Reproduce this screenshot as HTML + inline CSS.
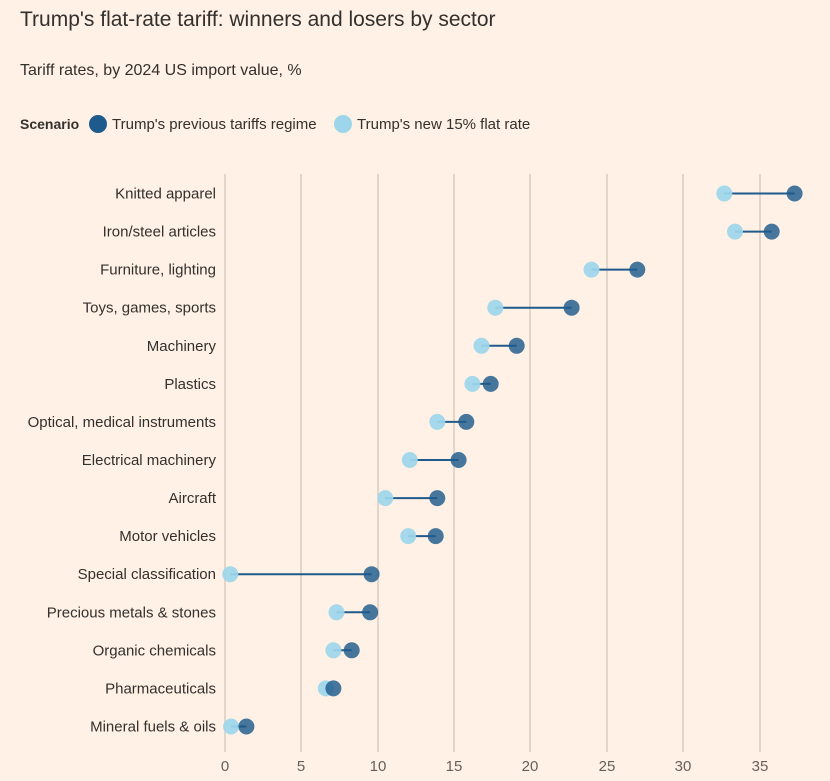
<!DOCTYPE html>
<html><head><meta charset="utf-8"><style>
body{margin:0;background:#fff1e5;font-family:"Liberation Sans",sans-serif;}
</style></head><body>
<svg width="830" height="781" xmlns="http://www.w3.org/2000/svg" style="display:block">
<rect width="830" height="781" fill="#fff1e5"/>
<text x="20" y="26" font-size="21" fill="#33302e">Trump's flat-rate tariff: winners and losers by sector</text>
<text x="20" y="75" font-size="16" fill="#33302e">Tariff rates, by 2024 US import value, %</text>
<text x="20" y="129" font-size="14" font-weight="bold" fill="#33302e">Scenario</text>
<circle cx="98" cy="124" r="9" fill="#1f5a8c"/>
<text x="112" y="129" font-size="15" fill="#33302e">Trump's previous tariffs regime</text>
<circle cx="343" cy="124" r="9" fill="#9dd6ea"/>
<text x="357" y="129" font-size="15" fill="#33302e">Trump's new 15% flat rate</text>
<g stroke="#c4bab0" stroke-width="1">
<line x1="225" y1="174" x2="225" y2="752"/>
<line x1="301" y1="174" x2="301" y2="752"/><line x1="378" y1="174" x2="378" y2="752"/>
<line x1="454" y1="174" x2="454" y2="752"/><line x1="530" y1="174" x2="530" y2="752"/>
<line x1="607" y1="174" x2="607" y2="752"/><line x1="683" y1="174" x2="683" y2="752"/>
<line x1="760" y1="174" x2="760" y2="752"/>
</g>
<g font-size="15" fill="#66605c" text-anchor="middle">
<text x="225" y="771">0</text><text x="301" y="771">5</text><text x="378" y="771">10</text>
<text x="454" y="771">15</text><text x="530" y="771">20</text><text x="607" y="771">25</text>
<text x="683" y="771">30</text><text x="760" y="771">35</text>
</g>
<g font-size="15" fill="#33302e" text-anchor="end">
<text x="216" y="198.5">Knitted apparel</text>
<text x="216" y="236.6">Iron/steel articles</text>
<text x="216" y="274.6">Furniture, lighting</text>
<text x="216" y="312.7">Toys, games, sports</text>
<text x="216" y="350.8">Machinery</text>
<text x="216" y="388.9">Plastics</text>
<text x="216" y="426.9">Optical, medical instruments</text>
<text x="216" y="465">Electrical machinery</text>
<text x="216" y="503.1">Aircraft</text>
<text x="216" y="541.1">Motor vehicles</text>
<text x="216" y="579.2">Special classification</text>
<text x="216" y="617.3">Precious metals &amp; stones</text>
<text x="216" y="655.3">Organic chemicals</text>
<text x="216" y="693.4">Pharmaceuticals</text>
<text x="216" y="731.5">Mineral fuels &amp; oils</text>
</g>
<g stroke="#1f5a8c" stroke-width="2">
<line x1="724.3" y1="193.5" x2="794.6" y2="193.5"/>
<line x1="735" y1="231.6" x2="771.7" y2="231.6"/>
<line x1="591.5" y1="269.6" x2="637.3" y2="269.6"/>
<line x1="495.3" y1="307.7" x2="571.6" y2="307.7"/>
<line x1="481.5" y1="345.8" x2="516.7" y2="345.8"/>
<line x1="472.4" y1="383.9" x2="490.7" y2="383.9"/>
<line x1="437.3" y1="421.9" x2="466.3" y2="421.9"/>
<line x1="409.8" y1="460" x2="458.6" y2="460"/>
<line x1="385.3" y1="498.1" x2="437.3" y2="498.1"/>
<line x1="408.2" y1="536.1" x2="435.7" y2="536.1"/>
<line x1="230.3" y1="574.2" x2="371.6" y2="574.2"/>
<line x1="336.5" y1="612.3" x2="370.1" y2="612.3"/>
<line x1="333.4" y1="650.3" x2="351.7" y2="650.3"/>
<line x1="325.8" y1="688.4" x2="333.4" y2="688.4"/>
<line x1="231.1" y1="726.5" x2="246.4" y2="726.5"/>
</g>
<g fill="#9dd6ea" fill-opacity="0.92">
<circle cx="724.3" cy="193.5" r="8"/><circle cx="735" cy="231.6" r="8"/>
<circle cx="591.5" cy="269.6" r="8"/><circle cx="495.3" cy="307.7" r="8"/>
<circle cx="481.5" cy="345.8" r="8"/><circle cx="472.4" cy="383.9" r="8"/>
<circle cx="437.3" cy="421.9" r="8"/><circle cx="409.8" cy="460" r="8"/>
<circle cx="385.3" cy="498.1" r="8"/><circle cx="408.2" cy="536.1" r="8"/>
<circle cx="230.3" cy="574.2" r="8"/><circle cx="336.5" cy="612.3" r="8"/>
<circle cx="333.4" cy="650.3" r="8"/><circle cx="325.8" cy="688.4" r="8"/>
<circle cx="231.1" cy="726.5" r="8"/>
</g>
<g fill="#1f5a8c" fill-opacity="0.82">
<circle cx="794.6" cy="193.5" r="8"/><circle cx="771.7" cy="231.6" r="8"/>
<circle cx="637.3" cy="269.6" r="8"/><circle cx="571.6" cy="307.7" r="8"/>
<circle cx="516.7" cy="345.8" r="8"/><circle cx="490.7" cy="383.9" r="8"/>
<circle cx="466.3" cy="421.9" r="8"/><circle cx="458.6" cy="460" r="8"/>
<circle cx="437.3" cy="498.1" r="8"/><circle cx="435.7" cy="536.1" r="8"/>
<circle cx="371.6" cy="574.2" r="8"/><circle cx="370.1" cy="612.3" r="8"/>
<circle cx="351.7" cy="650.3" r="8"/><circle cx="333.4" cy="688.4" r="8"/>
<circle cx="246.4" cy="726.5" r="8"/>
</g>
</svg>
</body></html>
